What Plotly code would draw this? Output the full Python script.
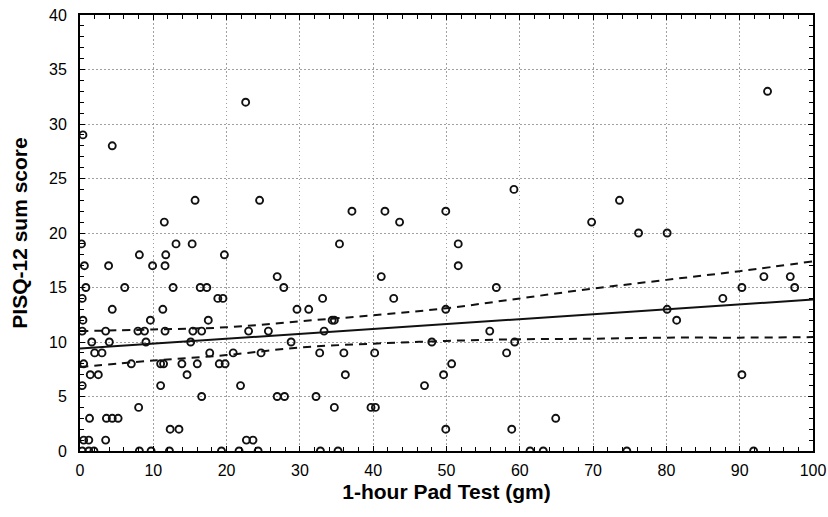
import plotly.graph_objects as go

# Scatter data: pad test weight (gm) and PISQ-12 sum score, grouped by score row
pad_test = [
    # y = 0
    0.3, 1.2, 1.9, 8.1, 9.7, 12.2, 19.3, 21.7, 24.3, 32.8, 35.2, 61.4, 63.2, 74.6, 91.9,
    # y = 1
    0.5, 1.2, 3.5, 22.7, 23.6,
    # y = 2
    12.3, 13.5, 49.9, 58.9,
    # y = 3
    1.3, 3.6, 4.4, 5.2, 64.9,
    # y = 4
    8.0, 34.7, 39.7, 40.3,
    # y = 5
    16.6, 26.9, 27.9, 32.2,
    # y = 6
    0.3, 11.0, 21.9, 47.0,
    # y = 7
    1.4, 2.5, 14.6, 36.2, 49.6, 90.3,
    # y = 8
    0.5, 7.0, 11.0, 11.4, 13.9, 16.0, 19.0, 19.8, 50.7,
    # y = 9
    2.0, 3.0, 17.7, 20.9, 24.7, 32.7, 36.0, 40.2, 58.2,
    # y = 10
    1.6, 4.0, 9.0, 15.1, 28.8, 48.0, 59.3,
    # y = 11
    0.3, 3.5, 7.9, 8.8, 11.6, 15.4, 16.6, 23.0, 25.7, 33.3, 55.9,
    # y = 12
    0.4, 9.6, 17.5, 34.4, 34.7, 81.4,
    # y = 13
    4.4, 11.3, 29.6, 31.2, 49.9, 80.1,
    # y = 14
    0.3, 18.8, 19.5, 33.1, 42.8, 87.7,
    # y = 15
    0.8, 6.1, 12.7, 16.4, 17.3, 27.8, 56.8, 90.3, 97.5,
    # y = 16
    26.9, 41.1, 93.3, 96.9,
    # y = 17
    0.6, 3.9, 9.9, 11.6, 51.6,
    # y = 18
    8.1, 11.7, 19.7,
    # y = 19
    0.2, 13.1, 15.3, 35.4, 51.6,
    # y = 20
    76.2, 80.1,
    # y = 21
    11.5, 43.6, 69.8,
    # y = 22
    37.1, 41.6, 49.9,
    # y = 23
    15.7, 24.5, 73.6,
    # y = 24
    59.2,
    # y = 28, 29, 32, 33
    4.4, 0.4, 22.6, 93.8,
]
pisq_score = (
    [0] * 15 + [1] * 5 + [2] * 4 + [3] * 5 + [4] * 4 + [5] * 4 + [6] * 4 + [7] * 6
    + [8] * 9 + [9] * 9 + [10] * 7 + [11] * 11 + [12] * 6 + [13] * 6 + [14] * 6
    + [15] * 9 + [16] * 4 + [17] * 5 + [18] * 3 + [19] * 5 + [20] * 2 + [21] * 3
    + [22] * 3 + [23] * 3 + [24] * 1 + [28, 29, 32, 33]
)

# Regression line and 95% confidence band, read at these x positions
line_x = [0, 10, 20, 30, 40, 50, 60, 70, 80, 90, 100]
fit_y = [9.4, 9.85, 10.3, 10.75, 11.2, 11.65, 12.1, 12.55, 13.0, 13.45, 13.9]
upper_y = [11.0, 11.15, 11.35, 11.9, 12.45, 13.1, 14.0, 14.9, 15.7, 16.5, 17.4]
lower_y = [7.7, 8.3, 8.8, 9.5, 9.85, 10.1, 10.25, 10.3, 10.4, 10.4, 10.45]

x_ticks = [0, 10, 20, 30, 40, 50, 60, 70, 80, 90, 100]
y_ticks = [0, 5, 10, 15, 20, 25, 30, 35, 40]

FONT = "Liberation Sans, Arial, sans-serif"

fig = go.Figure()
fig.add_trace(go.Scatter(
    x=pad_test, y=pisq_score, mode="markers",
    marker=dict(symbol="circle-open", size=7, color="#111111",
                line=dict(width=1.9, color="#111111")),
    showlegend=False,
))
fig.add_trace(go.Scatter(x=line_x, y=fit_y, mode="lines",
                         line=dict(color="#111111", width=2), showlegend=False))
for band in (upper_y, lower_y):
    fig.add_trace(go.Scatter(x=line_x, y=band, mode="lines", line_shape="spline",
                             line=dict(color="#111111", width=2, dash="8px,6px"),
                             showlegend=False))

axis_common = dict(
    showline=True, linecolor="black", linewidth=2, mirror="ticks",
    ticks="inside", ticklen=5, tickcolor="black", tickwidth=1,
    showgrid=True, gridcolor="#a0a0a0", gridwidth=1.2, griddash="1.5px,2.5px",
    zeroline=False, tickfont=dict(family=FONT, size=16, color="black"),
)

fig.update_xaxes(
    range=[0, 100], tickvals=x_ticks, ticktext=[str(v) for v in x_ticks],
    minor=dict(dtick=2, ticks="inside", ticklen=4, tickcolor="black", showgrid=False),
    ticklabelstandoff=4,
    title=dict(text="1-hour Pad Test (gm)", standoff=6,
               font=dict(family=FONT, size=21, color="black", weight="bold")),
    **axis_common,
)
fig.update_yaxes(
    range=[0, 40], tickvals=y_ticks, ticktext=[str(v) for v in y_ticks],
    minor=dict(dtick=1, ticks="inside", ticklen=4, tickcolor="black", showgrid=False),
    ticklabelstandoff=8,
    title=dict(text="PISQ-12 sum score", standoff=16,
               font=dict(family=FONT, size=21, color="black", weight="bold")),
    **axis_common,
)

fig.update_layout(
    width=828, height=517,
    margin=dict(l=80, r=15, t=15, b=66, autoexpand=False),
    paper_bgcolor="white", plot_bgcolor="white",
)

fig.write_html("out.html", config={"displayModeBar": False},
               post_script="document.body.style.margin='0';")
